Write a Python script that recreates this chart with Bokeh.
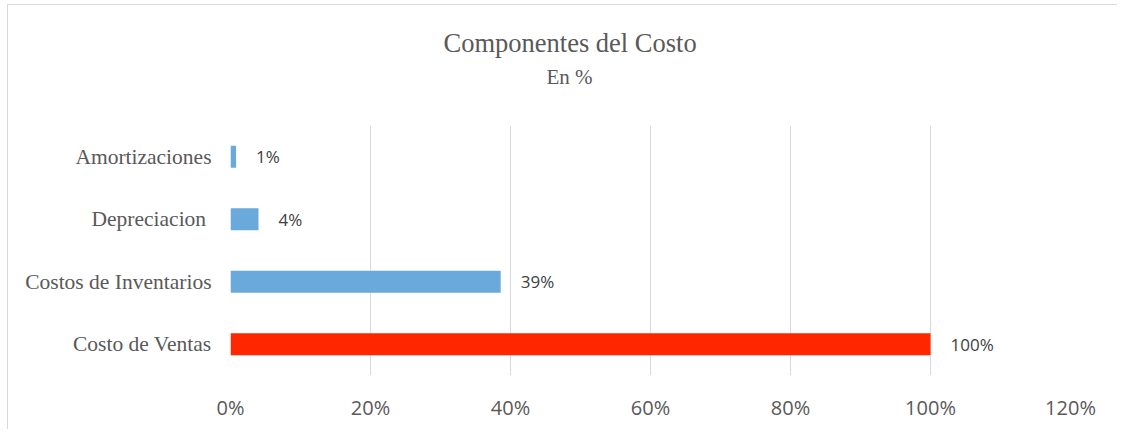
from bokeh.plotting import figure
from bokeh.models import ColumnDataSource, LabelSet, Range1d, FixedTicker, CustomJSTickFormatter, Title
from bokeh.core.properties import value
from bokeh.embed import file_html
from bokeh.resources import INLINE

categories = ["Costo de Ventas", "Costos de Inventarios", "Depreciacion ", "Amortizaciones"]
values = [100.0, 38.6, 4.0, 0.8]
value_labels = ["100%", "39%", "4%", "1%"]
colors = ["#FF2600", "#6AA9DB", "#6AA9DB", "#6AA9DB"]
x_ticks = [0, 20, 40, 60, 80, 100, 120]
title_text = "Componentes del Costo"
subtitle_text = "En %"

n = len(categories)
ypos = [i + 0.5 for i in range(n)]
src = ColumnDataSource(dict(y=ypos, val=values, lab=value_labels, col=colors))

p = figure(width=1110, height=425, y_range=Range1d(0, n), x_range=Range1d(0, 120),
           output_backend="svg", toolbar_location=None,
           min_border_left=222, min_border_right=48, min_border_top=120, min_border_bottom=55)

p.hbar(y="y", right="val", left=0, height=0.35, fill_color="col", line_color=None, source=src)

labels = LabelSet(x="val", y="y", text="lab", source=src, x_offset=20,
                  text_baseline="middle", text_align="left",
                  text_font=value("Open Sans"), text_font_size="17px", text_color="#404040")
p.add_layout(labels)

p.outline_line_color = None
p.background_fill_color = "white"
p.border_fill_color = "white"

p.xaxis.ticker = FixedTicker(ticks=x_ticks)
p.xaxis.formatter = CustomJSTickFormatter(code="return tick + '%';")
p.xaxis.axis_line_color = None
p.xaxis.major_tick_line_color = None
p.xaxis.minor_tick_line_color = None
p.xaxis.major_label_text_font = "Open Sans"
p.xaxis.major_label_text_font_size = "20px"
p.xaxis.major_label_text_color = "#595959"
p.xaxis.major_label_standoff = 12

p.yaxis.ticker = FixedTicker(ticks=ypos)
p.yaxis.major_label_overrides = {y: c for y, c in zip(ypos, categories)}
p.yaxis.axis_line_color = None
p.yaxis.major_tick_line_color = None
p.yaxis.minor_tick_line_color = None
p.yaxis.major_label_text_font = "Liberation Serif"
p.yaxis.major_label_text_font_size = "21.5px"
p.yaxis.major_label_text_color = "#595959"
p.yaxis.major_label_standoff = 13

p.ygrid.grid_line_color = None
p.xgrid.grid_line_color = "#D9D9D9"
p.xgrid.grid_line_width = 1
p.xgrid.ticker = FixedTicker(ticks=x_ticks)

# main title (outermost slot)
p.title.text = title_text
p.title.align = "left"
p.title.offset = 213
p.title.text_font = "Liberation Serif"
p.title.text_font_size = "26.5px"
p.title.text_font_style = "normal"
p.title.text_color = "#595959"
p.title.standoff = 0

# spacer closest to the frame, then the subtitle above it
spacer = Title(text=" ", text_font_size="15px", standoff=13)
sub = Title(text=subtitle_text, align="left", offset=316, text_font="Liberation Serif",
            text_font_size="21px", text_font_style="normal", text_color="#595959", standoff=10)
p.add_layout(spacer, "above")
p.add_layout(sub, "above")

p.styles = {"margin-left": "7px", "margin-top": "4px",
            "border-left": "1px solid #D9D9D9", "border-top": "1px solid #D9D9D9"}

open("out.html", "w").write(file_html(p, INLINE))
